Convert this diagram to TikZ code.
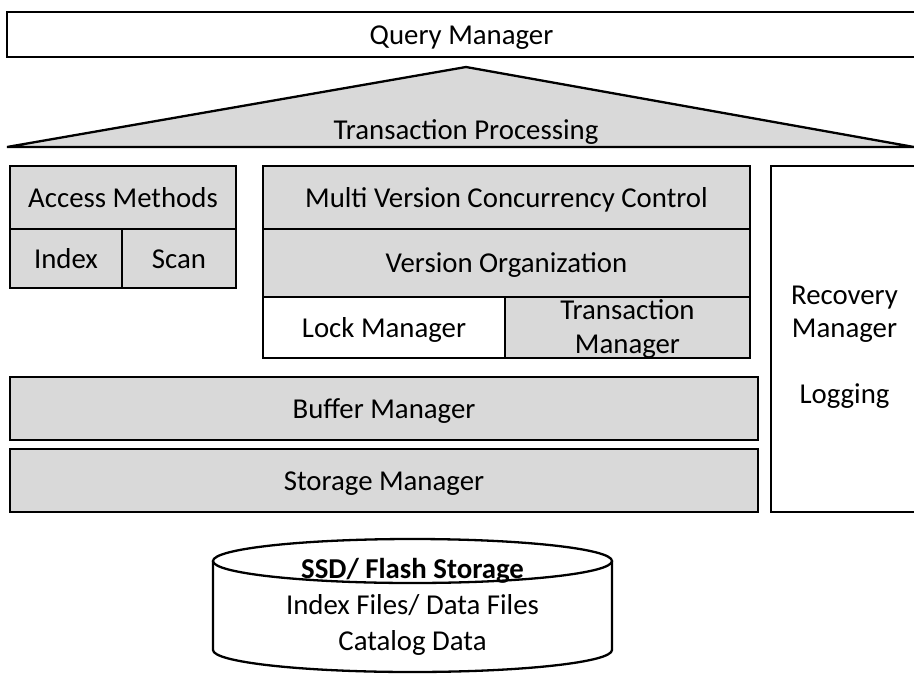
\documentclass[tikz,border=0pt]{standalone}
\usepackage{fontspec}
\setmainfont{Carlito}

\tikzset{
  layer/.style={draw, line width=2.3pt, fill=boxgray, rectangle, inner sep=0pt,
                align=center, font=\fontsize{28.8}{34}\selectfont},
  single/.style={text height=24pt, text depth=5pt},
  plain/.style={layer, fill=white},
  label/.style={font=\fontsize{28.8}{34}\selectfont, align=center, inner sep=0pt}
}
\definecolor{boxgray}{RGB}{217,217,217}

\begin{document}
\begin{tikzpicture}[x=1pt, y=-1pt]
\useasboundingbox (0,0) rectangle (914,673);
% top of the stack
\node [plain, single, minimum width=909pt, minimum height=45pt] (query) at (461.5,34.5) {Query Manager};
\draw [line width=2.3pt, fill=boxgray, line join=miter] (7,147) -- (466,67) -- (914,147) -- cycle;
\node [label, single] (txproc) at (466,130) {Transaction Processing};
% access methods
\node [layer, single, minimum width=226pt, minimum height=63pt] (access) at (123,197.5) {Access Methods};
\node [layer, single, minimum width=112pt, minimum height=59pt] (index) at (66,258.5) {Index};
\node [layer, single, minimum width=114pt, minimum height=59pt] (scan) at (179,258.5) {Scan};
% concurrency control
\node [layer, single, minimum width=487pt, minimum height=63pt] (mvcc) at (506.5,197.5) {Multi Version Concurrency Control};
\node [layer, single, minimum width=487pt, minimum height=68pt] (version) at (506.5,263) {Version Organization};
\node [plain, single, minimum width=242pt, minimum height=61pt] (lock) at (384,327.5) {Lock Manager};
\node [layer, minimum width=245pt, minimum height=61pt] (txman) at (627.5,327.5) {};
\node [label] (txmantext) at (627.5,329.5) {Transaction\\Manager};
% recovery
\node [plain, minimum width=147pt, minimum height=346pt] (recovery) at (844.5,339) {};
\node [label, font=\fontsize{28.8}{33}\selectfont] (recovtext) at (844.5,347) {Recovery\\Manager\\ \\Logging};
% buffer and storage
\node [layer, single, minimum width=748pt, minimum height=63pt] (buffer) at (384,408.5) {Buffer Manager};
\node [layer, single, minimum width=748pt, minimum height=63pt] (storage) at (384,480.5) {Storage Manager};
% disk
\draw [line width=2.3pt, fill=white] (213,561) -- (213,650)
      arc [start angle=180, end angle=360, x radius=199.5pt, y radius=22pt] -- (612,561);
\draw [line width=2.3pt] (412.5,561) ellipse [x radius=199.5pt, y radius=22pt];
\node [label, font=\fontsize{28.8}{36}\selectfont] (ssd) at (412.5,607)
      {\textbf{SSD/ Flash Storage}\\Index Files/ Data Files\\Catalog Data};
\end{tikzpicture}
\end{document}
